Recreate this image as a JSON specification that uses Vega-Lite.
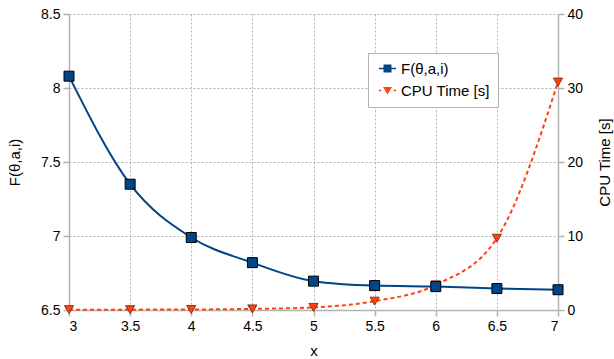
{
  "$schema": "https://vega.github.io/schema/vega-lite/v6.json",
  "width": 489,
  "height": 296,
  "autosize": {"type": "none"},
  "padding": {"left": 69, "top": 14, "right": 56, "bottom": 49},
  "config": {
    "font": "Liberation Sans",
    "view": {"stroke": null},
    "axis": {
      "domainColor": "#b3b3b3",
      "domainWidth": 1.5,
      "tickColor": "#b3b3b3",
      "tickWidth": 1.5,
      "tickSize": 6,
      "labelPadding": 3,
      "labelFontSize": 14,
      "labelColor": "#000000",
      "titleFontSize": 15,
      "titleFontWeight": "normal",
      "titleColor": "#000000",
      "gridColor": "#b3b3b3",
      "gridDash": [2, 2],
      "gridWidth": 1,
      "format": "~r"
    },
    "legend": {
      "strokeColor": "#b3b3b3",
      "fillColor": "#ffffff",
      "padding": 8,
      "rowPadding": 6,
      "labelFontSize": 15,
      "labelColor": "#000000"
    }
  },
  "data": {
    "values": [
      {"x": 3, "series": "F(θ,a,i)", "value": 8.08},
      {"x": 3.5, "series": "F(θ,a,i)", "value": 7.35},
      {"x": 4, "series": "F(θ,a,i)", "value": 6.99},
      {"x": 4.5, "series": "F(θ,a,i)", "value": 6.82},
      {"x": 5, "series": "F(θ,a,i)", "value": 6.695},
      {"x": 5.5, "series": "F(θ,a,i)", "value": 6.665},
      {"x": 6, "series": "F(θ,a,i)", "value": 6.658},
      {"x": 6.5, "series": "F(θ,a,i)", "value": 6.645},
      {"x": 7, "series": "F(θ,a,i)", "value": 6.637},
      {"x": 3, "series": "CPU Time [s]", "value": 0.05},
      {"x": 3.5, "series": "CPU Time [s]", "value": 0.05},
      {"x": 4, "series": "CPU Time [s]", "value": 0.07},
      {"x": 4.5, "series": "CPU Time [s]", "value": 0.15},
      {"x": 5, "series": "CPU Time [s]", "value": 0.35},
      {"x": 5.5, "series": "CPU Time [s]", "value": 1.2},
      {"x": 6, "series": "CPU Time [s]", "value": 3.4},
      {"x": 6.5, "series": "CPU Time [s]", "value": 9.7},
      {"x": 7, "series": "CPU Time [s]", "value": 30.8}
    ]
  },
  "encoding": {
    "x": {
      "field": "x",
      "type": "quantitative",
      "scale": {"domain": [3, 7], "nice": false, "zero": false},
      "axis": {
        "title": "x",
        "values": [3, 3.5, 4, 4.5, 5, 5.5, 6, 6.5, 7],
        "grid": true,
        "titlePadding": 10
      }
    }
  },
  "layer": [
    {
      "transform": [{"filter": "datum.series == 'CPU Time [s]'"}],
      "encoding": {
        "y": {
          "field": "value",
          "type": "quantitative",
          "scale": {"domain": [0, 40], "nice": false},
          "axis": {
            "orient": "right",
            "title": "CPU Time [s]",
            "values": [0, 10, 20, 30, 40],
            "grid": false,
            "titleAngle": -90,
            "titleBaseline": "middle",
            "titlePadding": 22
          }
        }
      },
      "layer": [
        {
          "mark": {"type": "line", "interpolate": "monotone", "color": "#ff420e", "strokeWidth": 2, "strokeDash": [4, 3]}
        },
        {
          "mark": {"type": "point", "shape": "triangle-down", "filled": true, "fill": "#ff420e", "size": 85, "stroke": "#6b1f05", "strokeWidth": 0.8, "opacity": 1}
        }
      ]
    },
    {
      "transform": [{"filter": "datum.series == 'F(θ,a,i)'"}],
      "encoding": {
        "y": {
          "field": "value",
          "type": "quantitative",
          "scale": {"domain": [6.5, 8.5], "nice": false, "zero": false},
          "axis": {
            "orient": "left",
            "title": "F(θ,a,i)",
            "values": [6.5, 7, 7.5, 8, 8.5],
            "grid": true,
            "titlePadding": 18
          }
        }
      },
      "layer": [
        {
          "mark": {"type": "line", "interpolate": "monotone", "color": "#004586", "strokeWidth": 2}
        },
        {
          "mark": {"type": "point", "size": 0, "filled": true, "opacity": 1},
          "encoding": {
            "color": {
              "field": "series",
              "type": "nominal",
              "scale": {"domain": ["F(θ,a,i)", "CPU Time [s]"], "range": ["#004586", "#ff420e"]},
              "legend": {
                "title": null,
                "orient": "none",
                "legendX": 299,
                "legendY": 39,
                "symbolSize": 100,
                "symbolOffset": 4,
                "labelOffset": 6
              }
            },
            "shape": {
              "field": "series",
              "type": "nominal",
              "scale": {
                "domain": ["F(θ,a,i)", "CPU Time [s]"],
                "range": [
                  "M-1.7,-0.15H1.7V0.15H-1.7Z M-0.8,-0.8H0.8V0.8H-0.8Z",
                  "M-1.7,-0.15H-1.25V0.15H-1.7Z M1.25,-0.15H1.7V0.15H1.25Z M-0.9,-0.7L0.9,-0.7L0,0.8Z"
                ]
              },
              "legend": {
                "title": null,
                "orient": "none",
                "legendX": 299,
                "legendY": 39,
                "symbolSize": 100,
                "symbolOffset": 4,
                "labelOffset": 6
              }
            }
          }
        },
        {
          "mark": {"type": "point", "shape": "square", "filled": true, "fill": "#004586", "size": 100, "stroke": "#000000", "strokeWidth": 1, "opacity": 1}
        }
      ]
    }
  ],
  "resolve": {"scale": {"y": "independent"}}
}
